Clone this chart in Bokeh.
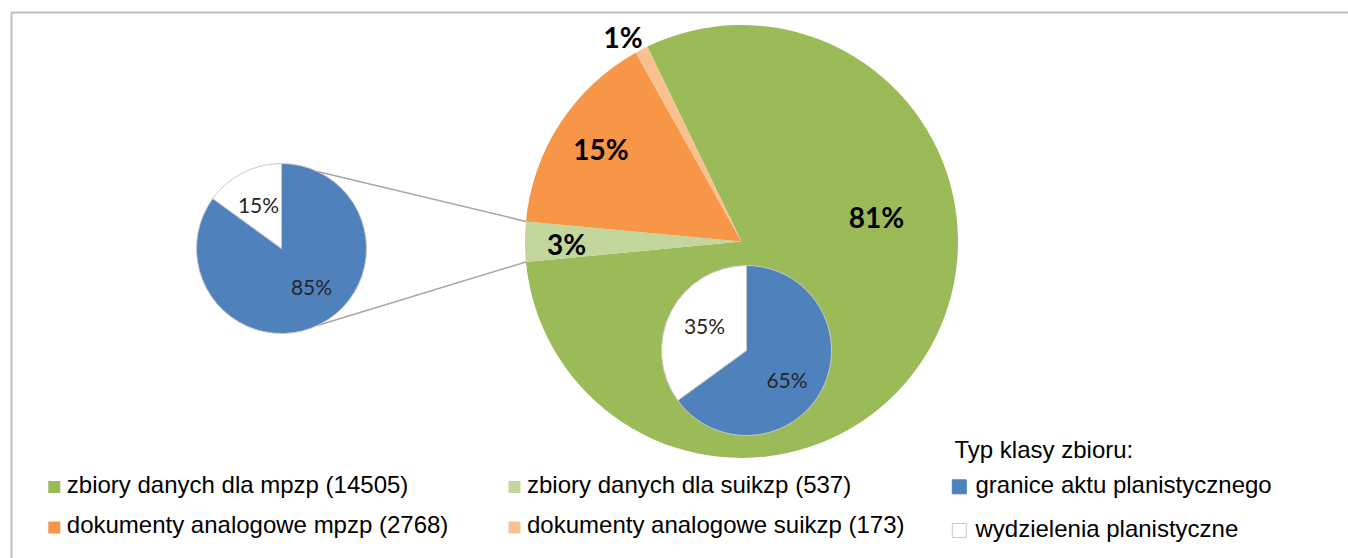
import math
from bokeh.plotting import figure
from bokeh.models import Range1d, ColumnDataSource
from bokeh.core.properties import value
from bokeh.embed import file_html
from bokeh.resources import INLINE

# ---------------- data ----------------
main_names = ["zbiory danych dla mpzp", "zbiory danych dla suikzp",
              "dokumenty analogowe mpzp", "dokumenty analogowe suikzp"]
main_values = [14505, 537, 2768, 173]
main_colors = ["#9BBB59", "#C3D69B", "#F79646", "#FAC090"]

type_title = "Typ klasy zbioru:"
type_names = ["granice aktu planistycznego", "wydzielenia planistyczne"]
type_colors = ["#4F81BD", "#FFFFFF"]
mpzp_type_pct = [65, 35]      # inner pie (inside green slice)
suikzp_type_pct = [85, 15]    # left pie (zoom of light-green slice)

# ---------------- layout (pixel space of the picture) ----------------
W, H = 1348, 558
def Y(py):
    return H - py

def TY(base_px, size):
    # place text so that its alphabetic baseline lands at base_px
    return Y(base_px - 0.39 * size)

p = figure(width=W, height=H, output_backend="svg", toolbar_location=None,
           x_range=Range1d(0, W), y_range=Range1d(0, H),
           min_border=0, outline_line_color=None)
p.axis.visible = False
p.grid.visible = False
p.background_fill_color = "white"

# chart border (top and left visible)
p.line(x=[11, 11, W + 5], y=[Y(H + 5), Y(12), Y(12)],
       line_color="#C0C0C0", line_width=2)

def pie(cx, cy, r, vals, colors, first_cw, line_color=None, line_width=1):
    total = float(sum(vals))
    cum = first_cw
    starts, ends, bounds = [], [], []
    for v in vals:
        a0 = cum
        a1 = cum + 360.0 * v / total
        bounds.append((a0, a1))
        starts.append(math.radians(90 - a1))
        ends.append(math.radians(90 - a0))
        cum = a1
    src = ColumnDataSource(dict(x=[cx] * len(vals), y=[Y(cy)] * len(vals),
                                s=starts, e=ends, c=colors))
    p.wedge(x="x", y="y", radius=r, start_angle="s", end_angle="e",
            fill_color="c", line_color=line_color, line_width=line_width, source=src)
    return bounds

def pt(cx, cy, r, cw):
    a = math.radians(cw)
    return cx + r * math.sin(a), Y(cy - r * math.cos(a))

# big pie
BCX, BCY, BR = 741, 241, 216.5
bounds = pie(BCX, BCY, BR, main_values, main_colors, 334.2)

# connectors from left pie to the light-green slice
LCX, LCY, LR = 281, 248, 85
lg0, lg1 = bounds[1]
p1 = pt(LCX, LCY, LR, 25); q1 = pt(BCX, BCY, BR, lg1)
p2 = pt(LCX, LCY, LR, 155); q2 = pt(BCX, BCY, BR, lg0)
p.segment(x0=[p1[0], p2[0]], y0=[p1[1], p2[1]], x1=[q1[0], q2[0]], y1=[q1[1], q2[1]],
          line_color="#A6A6A6", line_width=1.5)

# small pies
pie(LCX, LCY, LR, suikzp_type_pct, type_colors, 0, line_color="#C8C8C8", line_width=1)
ICX, ICY, IR = 746, 350, 85
pie(ICX, ICY, IR, mpzp_type_pct, type_colors, 0, line_color="#C8C8C8", line_width=1)

# percentage labels on big pie
BIG = 28
total = sum(main_values)
main_pct = ["%d%%" % round(100.0 * v / total) for v in main_values]
main_lab_x = [876, 566, 600.5, 622.5]
main_lab_base = [227, 254, 159, 47]
p.text(x=main_lab_x, y=[TY(b, BIG) for b in main_lab_base], text=main_pct,
       text_font=value("Lato"), text_font_style="bold", text_font_size="%dpx" % BIG,
       text_color="#000000", text_align="center", text_baseline="alphabetic")

# small pie labels
SM = 21
small_text = ["%d%%" % v for v in suikzp_type_pct] + ["%d%%" % v for v in mpzp_type_pct]
small_x = [311, 258, 786.5, 704]
small_base = [294, 212, 387, 333]
p.text(x=small_x, y=[TY(b, SM) for b in small_base], text=small_text,
       text_font=value("Lato"), text_font_size="%dpx" % SM,
       text_color="#262626", text_align="center", text_baseline="alphabetic")

# legend: main series
LG = 24
leg_labels = ["%s (%d)" % (n, v) for n, v in zip(main_names, main_values)]
leg_mx = [53.8, 514, 53.8, 514]
leg_my = [486.5, 486.5, 527, 527]
p.rect(x=leg_mx, y=[Y(v) for v in leg_my], width=12, height=12,
       fill_color=main_colors, line_color=None)
p.text(x=[m + 12.5 for m in leg_mx], y=[TY(v + 6.5, LG) for v in leg_my], text=leg_labels,
       text_font=value("Liberation Sans"), text_font_size="%dpx" % LG,
       text_color="#000000", text_align="left", text_baseline="alphabetic")

# legend: type classes
p.text(x=[954], y=[TY(458, LG)], text=[type_title],
       text_font=value("Liberation Sans"), text_font_size="%dpx" % LG,
       text_color="#000000", text_align="left", text_baseline="alphabetic")
t_my = [486.3, 530]
p.rect(x=[958.8, 958.8], y=[Y(v) for v in t_my], width=14, height=14,
       fill_color=type_colors, line_color=["#4F81BD", "#C8C8C8"], line_width=1)
p.text(x=[975, 975], y=[TY(v + 7.5, LG) for v in t_my], text=type_names,
       text_font=value("Liberation Sans"), text_font_size="%dpx" % LG,
       text_color="#000000", text_align="left", text_baseline="alphabetic")

open("out.html", "w").write(file_html(p, INLINE))
